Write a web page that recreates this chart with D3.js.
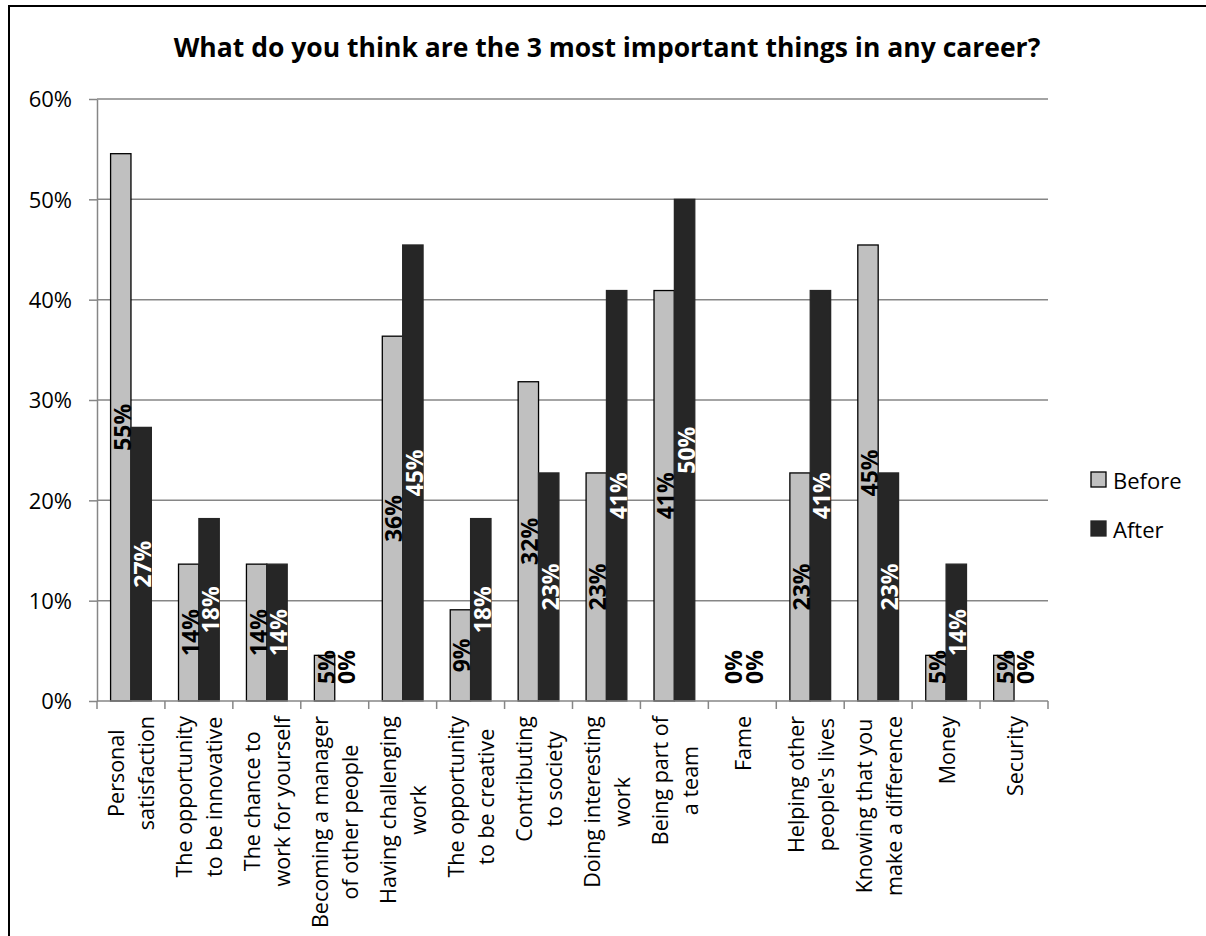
<!DOCTYPE html>
<html>
<head>
<meta charset="utf-8">
<script src="https://cdn.jsdelivr.net/npm/d3@7"></script>
<style>
  html, body { margin: 0; padding: 0; background: #fff; }
  svg { display: block; }
  text { font-family: "Open Sans", "Noto Sans", sans-serif; }
</style>
</head>
<body>
<svg id="chart" width="1206" height="936"></svg>
<script>
// Survey: share of respondents naming each item among their top 3, before and after
const categories = [
  "Personal\nsatisfaction",
  "The opportunity\nto be innovative",
  "The chance to\nwork for yourself",
  "Becoming a manager\nof other people",
  "Having challenging\nwork",
  "The opportunity\nto be creative",
  "Contributing\nto society",
  "Doing interesting\nwork",
  "Being part of\na team",
  "Fame",
  "Helping other\npeople's lives",
  "Knowing that you\nmake a difference",
  "Money",
  "Security"
];
const seriesNames = ["Before", "After"];
const beforeValues = [0.5455, 0.1364, 0.1364, 0.0455, 0.3636, 0.0909, 0.3182, 0.2273, 0.4091, 0, 0.2273, 0.4545, 0.0455, 0.0455];
const afterValues  = [0.2727, 0.1818, 0.1364, 0,      0.4545, 0.1818, 0.2273, 0.4091, 0.5,    0, 0.4091, 0.2273, 0.1364, 0];
const yTickValues = [0, 0.1, 0.2, 0.3, 0.4, 0.5, 0.6];
const titleText = "What do you think are the 3 most important things in any career?";

const svg = d3.select("#chart");
const W = 1206, H = 936;
const plot = { left: 97, right: 1048, top: 99, bottom: 701 };
const gridColor = "#868686";
const fills = { Before: "#c0c0c0", After: "#262626" };
const pct = d3.format(".0%");

// chart frame
svg.append("rect")
  .attr("x", 9).attr("y", 6).attr("width", W).attr("height", H)
  .attr("fill", "#fff").attr("stroke", "#000").attr("stroke-width", 2);

// title
svg.append("text")
  .attr("x", 607).attr("y", 47)
  .attr("text-anchor", "middle").attr("dominant-baseline", "central")
  .attr("font-size", 26.5).attr("font-weight", "bold").attr("fill", "#000")
  .text(titleText);

const x = d3.scaleBand().domain(d3.range(categories.length)).range([plot.left, plot.right]).paddingInner(0).paddingOuter(0);
const xs = d3.scaleBand().domain(seriesNames).range([0, x.bandwidth()]).paddingInner(0).paddingOuter(2 / 3);
const y = d3.scaleLinear().domain([0, 0.6]).range([plot.bottom, plot.top]);

// horizontal gridlines
svg.append("g").selectAll("line")
  .data(yTickValues.filter(v => v > 0))
  .join("line")
  .attr("x1", plot.left).attr("x2", plot.right)
  .attr("y1", d => y(d)).attr("y2", d => y(d))
  .attr("stroke", gridColor).attr("stroke-width", 1.5);

// y axis
const yAxis = svg.append("g")
  .attr("transform", `translate(${plot.left},0)`)
  .call(d3.axisLeft(y).tickValues(yTickValues).tickFormat(pct).tickSize(8).tickPadding(17).tickSizeOuter(0));
yAxis.select(".domain").attr("stroke", gridColor).attr("stroke-width", 1.5);
yAxis.selectAll(".tick line").attr("stroke", gridColor).attr("stroke-width", 1.5);
yAxis.selectAll(".tick text")
  .attr("font-size", 22).attr("fill", "#000")
  .attr("font-family", "'Open Sans', sans-serif")
  .attr("dy", "0.35em");

// bars
const rows = categories.map((c, i) => ({ i, Before: beforeValues[i], After: afterValues[i] }));
const barData = rows.flatMap(r => seriesNames.map(s => ({ i: r.i, series: s, value: r[s] })));

svg.append("g").selectAll("rect")
  .data(barData.filter(d => d.value > 0))
  .join("rect")
  .attr("x", d => x(d.i) + xs(d.series))
  .attr("y", d => y(d.value))
  .attr("width", xs.bandwidth())
  .attr("height", d => y(0) - y(d.value))
  .attr("fill", d => fills[d.series])
  .attr("stroke", d => d.series === "Before" ? "#000" : fills.After)
  .attr("stroke-width", 1.3);

// x axis line and category separators
svg.append("line")
  .attr("x1", plot.left).attr("x2", plot.right)
  .attr("y1", y(0)).attr("y2", y(0))
  .attr("stroke", gridColor).attr("stroke-width", 1.5);
svg.append("g").selectAll("line")
  .data(d3.range(categories.length + 1))
  .join("line")
  .attr("x1", d => d < categories.length ? x(d) : plot.right)
  .attr("x2", d => d < categories.length ? x(d) : plot.right)
  .attr("y1", y(0)).attr("y2", y(0) + 8)
  .attr("stroke", gridColor).attr("stroke-width", 1.5);

// value labels, rotated inside the bars
svg.append("g").selectAll("text")
  .data(barData)
  .join("text")
  .attr("transform", d => {
    const cx = x(d.i) + xs(d.series) + xs.bandwidth() / 2 + 1;
    const mid = (y(d.value) + y(0)) / 2;
    const cy = Math.min(mid, y(0) - 34);
    return `translate(${cx},${cy}) rotate(-90)`;
  })
  .attr("text-anchor", "middle").attr("dominant-baseline", "central")
  .attr("font-size", 23).attr("font-weight", "bold")
  .attr("fill", d => (d.series === "After" && d.value > 0) ? "#fff" : "#000")
  .text(d => pct(d.value));

// category labels, rotated, lines centred within each block
const catG = svg.append("g").selectAll("g")
  .data(categories)
  .join("g")
  .attr("transform", (d, i) => `translate(${x(i) + x.bandwidth() / 2},${y(0) + 15}) rotate(-90)`);
catG.each(function (d) {
  const g = d3.select(this);
  const lines = d.split("\n");
  const n = lines.length;
  const texts = g.selectAll("text").data(lines).join("text")
    .attr("text-anchor", "middle").attr("dominant-baseline", "central")
    .attr("font-size", 21.5).attr("fill", "#000")
    .attr("y", (t, k) => (k - (n - 1) / 2) * 30)
    .text(t => t);
  let maxLen = 0;
  texts.each(function () { maxLen = Math.max(maxLen, this.getComputedTextLength()); });
  texts.attr("x", -maxLen / 2);
});

// legend
const legend = svg.append("g").selectAll("g")
  .data(seriesNames)
  .join("g")
  .attr("transform", (d, k) => `translate(1091,${472 + k * 49})`);
legend.append("rect")
  .attr("width", 15).attr("height", 15)
  .attr("fill", d => fills[d])
  .attr("stroke", d => d === "Before" ? "#000" : fills.After)
  .attr("stroke-width", 1.3);
legend.append("text")
  .attr("x", 22).attr("y", 8)
  .attr("dominant-baseline", "central")
  .attr("font-size", 22).attr("fill", "#000")
  .text(d => d);
</script>
</body>
</html>
